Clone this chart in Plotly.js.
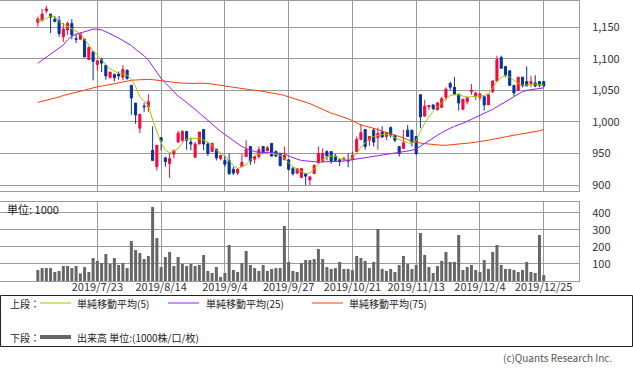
<!DOCTYPE html>
<html><head><meta charset="utf-8">
<script src="https://cdn.plot.ly/plotly-3.0.1.min.js"></script>
<style>html,body{margin:0;padding:0;background:#fff;}#chart{width:633px;height:373px;}</style>
</head><body><div id="chart"></div>
<script>
const dates=["2019/7/2","2019/7/3","2019/7/4","2019/7/5","2019/7/8","2019/7/9","2019/7/10","2019/7/11","2019/7/12","2019/7/16","2019/7/17","2019/7/18","2019/7/19","2019/7/22","2019/7/23","2019/7/24","2019/7/25","2019/7/26","2019/7/29","2019/7/30","2019/7/31",
"2019/8/1","2019/8/2","2019/8/5","2019/8/6","2019/8/7","2019/8/8","2019/8/9","2019/8/13","2019/8/14","2019/8/15","2019/8/16","2019/8/19","2019/8/20","2019/8/21","2019/8/22","2019/8/23","2019/8/26","2019/8/27","2019/8/28","2019/8/29","2019/8/30",
"2019/9/2","2019/9/3","2019/9/4","2019/9/5","2019/9/6","2019/9/9","2019/9/10","2019/9/11","2019/9/12","2019/9/13","2019/9/17","2019/9/18","2019/9/19","2019/9/20","2019/9/24","2019/9/25","2019/9/26","2019/9/27","2019/9/30",
"2019/10/1","2019/10/2","2019/10/3","2019/10/4","2019/10/7","2019/10/8","2019/10/9","2019/10/10","2019/10/11","2019/10/15","2019/10/16","2019/10/17","2019/10/18","2019/10/21","2019/10/23","2019/10/24","2019/10/25","2019/10/28","2019/10/29","2019/10/30","2019/10/31",
"2019/11/1","2019/11/5","2019/11/6","2019/11/7","2019/11/8","2019/11/11","2019/11/12","2019/11/13","2019/11/14","2019/11/15","2019/11/18","2019/11/19","2019/11/20","2019/11/21","2019/11/22","2019/11/25","2019/11/26","2019/11/27","2019/11/28","2019/11/29",
"2019/12/2","2019/12/3","2019/12/4","2019/12/5","2019/12/6","2019/12/9","2019/12/10","2019/12/11","2019/12/12","2019/12/13","2019/12/16","2019/12/17","2019/12/18","2019/12/19","2019/12/20","2019/12/23","2019/12/24","2019/12/25"];

const openP=[1158,1161,1176,1171,1163,1161,1135,1146,1156,1132,1131,1131,1099,1111,1091,1099,1090,1070,1075,1076,1071,1082,1058,1030,990,1025,1024,955,929,975,
943,934,949,968,971,985,968,944,965,988,965,953,957,942,939,939,925,919,929,945,961,941,945,961,954,966,953,950,940,940,
926,919,912,918,908,918,935,937,953,953,946,940,940,940,940,953,972,988,971,987,975,984,977,991,979,961,958,987,987,977,
1043,1009,1024,1027,1019,1023,1039,1061,1055,1044,1020,1032,1048,1041,1039,1040,1027,1048,1065,1102,1088,1081,1058,1050,1071,1064,1061,1062,1064,1064];
const highP=[1167,1179,1184,1171,1168,1168,1157,1159,1163,1140,1142,1132,1120,1112,1098,1102,1090,1079,1077,1080,1090,1083,1058,1030,1012,1030,1044,993,963,975,
945,950,955,986,987,985,975,968,984,988,968,967,957,948,946,950,929,927,949,971,961,945,961,961,962,966,955,950,961,940,
929,927,927,918,913,933,961,958,955,953,949,940,945,950,953,977,997,988,977,990,991,993,983,993,979,961,988,995,987,977,
1044,1035,1027,1028,1032,1040,1055,1064,1071,1044,1036,1040,1060,1048,1046,1040,1043,1066,1105,1105,1088,1081,1058,1071,1071,1088,1073,1074,1064,1064];
const lowP=[1151,1159,1172,1141,1159,1135,1127,1138,1131,1125,1131,1103,1099,1066,1081,1079,1067,1070,1064,1067,1066,1067,1011,997,982,1016,1016,939,923,955,
929,911,942,968,968,956,955,944,965,955,946,953,939,939,929,916,916,916,929,945,932,934,942,949,954,945,944,929,940,923,
915,917,911,900,900,918,935,937,939,934,937,930,939,928,940,953,972,956,962,961,956,975,971,975,968,945,958,977,961,947,
990,1009,1019,1019,1019,1023,1034,1050,1043,1018,1019,1028,1043,1035,1035,1018,1027,1046,1065,1085,1071,1057,1041,1050,1055,1057,1055,1055,1055,1055];
const closeP=[1163,1171,1179,1166,1159,1140,1147,1156,1138,1131,1140,1103,1118,1096,1097,1093,1073,1079,1070,1073,1083,1069,1038,1011,1012,1024,1032,939,963,970,
937,942,955,982,985,971,965,965,984,965,950,966,943,947,933,918,919,925,936,956,938,945,956,951,959,946,946,931,947,925,
918,926,926,914,913,931,950,950,946,938,939,937,942,938,947,972,983,961,977,968,982,976,983,979,971,950,967,977,968,950,
1008,1025,1026,1021,1030,1037,1052,1055,1044,1030,1036,1039,1050,1046,1044,1027,1043,1065,1099,1085,1074,1058,1046,1071,1057,1057,1064,1057,1058,1057];

const volume=[65,76,76,76,53,59,88,88,76,88,45,82,53,135,118,106,159,100,135,94,106,76,235,182,165,129,147,435,253,82,
141,171,88,141,100,88,100,88,94,153,59,47,82,24,47,212,65,53,106,176,94,76,59,94,59,71,76,76,323,112,
59,53,106,123,123,129,188,129,82,71,76,112,71,71,65,147,135,118,76,112,306,71,59,71,53,94,147,100,71,94,
282,153,82,47,88,118,171,112,112,270,65,82,94,65,53,123,71,171,212,94,71,71,65,53,65,112,53,47,270,35];

const ma5=[1161,1161,1164,1168,1167,1159,1155,1151,1147,1143,1140,1131,1122,1113,1106,1098,1091,1084,1080,1077,1076,1074,1067,1056,1040,1033,1026,1003,984,967,
955,951,954,958,967,973,974,974,974,971,968,963,955,951,946,938,931,926,929,932,940,947,949,950,950,950,949,947,943,935,
929,925,921,918,919,926,933,940,945,946,945,942,941,940,943,950,960,967,973,977,979,980,980,979,975,972,969,967,966,970,
985,998,1008,1017,1024,1030,1036,1042,1043,1043,1041,1039,1040,1040,1041,1042,1045,1054,1064,1070,1074,1071,1066,1061,1058,1058,1059,1060,1059,1058];
const ma25=[1093,1098,1103,1108,1113,1118,1122,1130,1136,1139,1141,1144,1146,1147,1147,1146,1143,1140,1136,1133,1129,1125,1121,1115,1110,1105,1098,1088,1077,1069,
1062,1055,1047,1041,1036,1031,1025,1020,1014,1008,1002,997,990,985,980,975,970,965,961,958,955,953,952,951.5,951,951,951,950.5,950,946,
943,941,939,938,937,937,936.5,936.5,936.5,937,937,937.5,938,939,940,941,942,943.5,944.5,946,947,948,949,950,951,952,953,954,955,957,
962,966,970,975,979,983,987,990,993,995,998,1001,1004,1007,1010,1013,1016,1020,1024,1028,1033,1037,1041,1045,1048,1050,1051,1052,1053,1054];
const ma75=[1031,1032.5,1034,1035.5,1037,1039.5,1042,1043.5,1045,1046.5,1048,1050,1052,1054,1056,1057,1058,1059.5,1061,1062.5,1064,1065,1066,1066.5,1067,1067.5,1067.5,1067,1066,1065,
1064.5,1064,1063,1062,1061.5,1061,1061,1061,1061.5,1061.5,1061,1060,1059,1058,1057,1056,1055,1053.5,1052,1051,1050.5,1050,1049.5,1048.5,1047.5,1046.5,1045,1043.5,1042,1040,
1038,1036,1034,1031.5,1029,1026,1023,1019.5,1016,1014,1012,1010,1008,1005,1002,998.5,995,993.5,992,990,988,985.5,983,981,979,977,975,972,969,967.5,
966,965.5,965,964,963.5,963,963,963.5,964,964.5,965,966,967,968,968.5,970,971,972.5,974,975,976,977.5,979,980,981,982,983,984.5,986,988];

const tickDates=["2019/7/23","2019/8/14","2019/9/4","2019/9/27","2019/10/21","2019/11/13","2019/12/4","2019/12/25"];
const priceTicks=[900,950,1000,1050,1100,1150];
const volTicks=[100,200,300,400];
const legendTop=["単純移動平均(5)","単純移動平均(25)","単純移動平均(75)"];
const legendBottom="出来高 単位:(1000株/口/枚)";

const W=633,H=373,ML=0,MR=54,MT=1,MB=92;
const PW=W-ML-MR, PH=H-MT-MB;
const px=x=>(x-ML)/PW;
const py=y=>(H-MB-y)/PH;

const FONT='"Noto Sans CJK JP","Noto Sans",sans-serif';
const RED='#f50a3c', BLUE='#06329a', GRID='#9a9a9a';
const C5='#99cc00', C25='#9b1cf0', C75='#ff3a0a';

const traces=[
 {type:'candlestick',x:dates,open:openP,high:highP,low:lowP,close:closeP,xaxis:'x',yaxis:'y',
  increasing:{line:{color:RED,width:1},fillcolor:RED},decreasing:{line:{color:BLUE,width:1},fillcolor:BLUE},
  whiskerwidth:0,showlegend:false,hoverinfo:'skip'},
 {type:'scatter',mode:'lines',x:dates,y:ma75,line:{color:C75,width:1},xaxis:'x',yaxis:'y',showlegend:false,hoverinfo:'skip'},
 {type:'scatter',mode:'lines',x:dates,y:ma25,line:{color:C25,width:1},xaxis:'x',yaxis:'y',showlegend:false,hoverinfo:'skip'},
 {type:'scatter',mode:'lines',x:dates,y:ma5,line:{color:C5,width:1},xaxis:'x',yaxis:'y',showlegend:false,hoverinfo:'skip'},
 {type:'bar',x:dates,y:volume,marker:{color:'#666666',line:{width:0}},width:0.7,xaxis:'x2',yaxis:'y2',showlegend:false,hoverinfo:'skip'}
];

const xr=[-8.9,127.3];
const axisCommon={showgrid:true,gridcolor:GRID,gridwidth:1,showline:true,mirror:true,linecolor:GRID,linewidth:1,zeroline:false,fixedrange:true};
const layout={
 width:W,height:H,margin:{l:ML,r:MR,t:MT,b:MB},paper_bgcolor:'#fff',plot_bgcolor:'#fff',
 font:{family:FONT,size:11,color:'#333'},showlegend:false,
 xaxis:Object.assign({},axisCommon,{type:'category',range:xr,anchor:'y',tickvals:tickDates,showticklabels:false,ticks:'',rangeslider:{visible:false}}),
 xaxis2:Object.assign({},axisCommon,{type:'category',range:xr,anchor:'y2',matches:'x',tickvals:tickDates,ticktext:tickDates,ticks:'',ticklabelstandoff:-4,tickfont:{size:11,color:'#333'}}),
 yaxis:Object.assign({},axisCommon,{domain:[py(190.7),1],range:[891,1191.7],side:'right',tickvals:priceTicks,tickformat:',',ticks:'',ticklabelstandoff:10,tickfont:{size:11,color:'#333'}}),
 yaxis2:Object.assign({},axisCommon,{domain:[0,py(201.7)],range:[0,466],side:'right',tickvals:volTicks,ticks:'',ticklabelstandoff:10,tickfont:{size:11,color:'#333'}}),
 shapes:[
  {type:'rect',xref:'paper',yref:'paper',x0:px(0.5),x1:px(632.5),y0:py(295.5),y1:py(346.5),line:{color:'#222',width:1},fillcolor:'rgba(0,0,0,0)'},
  {type:'line',xref:'paper',yref:'paper',x0:px(40),x1:px(71),y0:py(303),y1:py(303),line:{color:C5,width:1}},
  {type:'line',xref:'paper',yref:'paper',x0:px(168),x1:px(199),y0:py(303),y1:py(303),line:{color:C25,width:1}},
  {type:'line',xref:'paper',yref:'paper',x0:px(312),x1:px(343),y0:py(303),y1:py(303),line:{color:C75,width:1}},
  {type:'line',xref:'paper',yref:'paper',x0:px(40),x1:px(71),y0:py(337),y1:py(337),line:{color:'#666',width:4}}
 ],
 annotations:[
  {text:'単位: 1000',xref:'paper',yref:'paper',x:px(5),y:py(209),xanchor:'left',yanchor:'middle',showarrow:false,font:{size:11,color:'#222'}},
  {text:'上段：',xref:'paper',yref:'paper',x:px(8),y:py(303),xanchor:'left',yanchor:'middle',showarrow:false,font:{size:10,color:'#222'}},
  {text:legendTop[0],xref:'paper',yref:'paper',x:px(75),y:py(303),xanchor:'left',yanchor:'middle',showarrow:false,font:{size:10,color:'#222'}},
  {text:legendTop[1],xref:'paper',yref:'paper',x:px(204),y:py(303),xanchor:'left',yanchor:'middle',showarrow:false,font:{size:10,color:'#222'}},
  {text:legendTop[2],xref:'paper',yref:'paper',x:px(347),y:py(303),xanchor:'left',yanchor:'middle',showarrow:false,font:{size:10,color:'#222'}},
  {text:'下段：',xref:'paper',yref:'paper',x:px(8),y:py(337),xanchor:'left',yanchor:'middle',showarrow:false,font:{size:10,color:'#222'}},
  {text:legendBottom,xref:'paper',yref:'paper',x:px(75),y:py(337),xanchor:'left',yanchor:'middle',showarrow:false,font:{size:10,color:'#222'}},
  {text:'(c)Quants Research Inc.',xref:'paper',yref:'paper',x:px(614),y:py(357),xanchor:'right',yanchor:'middle',showarrow:false,font:{size:10,color:'#555'}}
 ]
};
Plotly.newPlot('chart',traces,layout,{staticPlot:true,displayModeBar:false});
</script></body></html>
